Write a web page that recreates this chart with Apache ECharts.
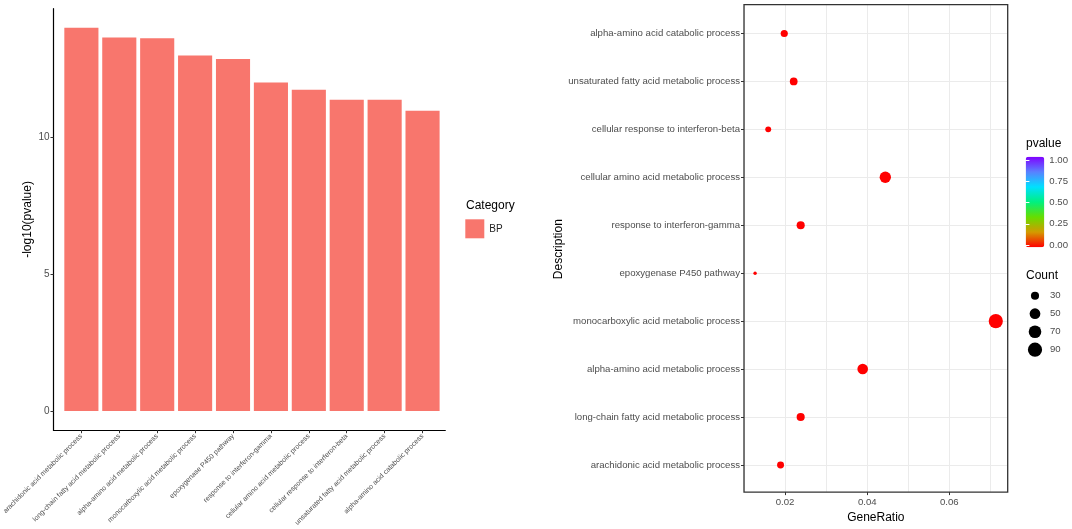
<!DOCTYPE html>
<html>
<head>
<meta charset="utf-8">
<script src="https://cdn.jsdelivr.net/npm/echarts@6/dist/echarts.min.js"></script>
<style>
  html, body { margin: 0; padding: 0; background: #fff; }
  #chart { width: 1072px; height: 529px; }
</style>
</head>
<body>
<div id="chart"></div>
<script>
// Terms, ordered as in the bar chart (bottom to top in the dot plot)
const categories = [
    'arachidonic acid metabolic process',
    'long-chain fatty acid metabolic process',
    'alpha-amino acid metabolic process',
    'monocarboxylic acid metabolic process',
    'epoxygenase P450 pathway',
    'response to interferon-gamma',
    'cellular amino acid metabolic process',
    'cellular response to interferon-beta',
    'unsaturated fatty acid metabolic process',
    'alpha-amino acid catabolic process'
];
const negLog10P = [14.0, 13.65, 13.62, 12.99, 12.86, 12.0, 11.74, 11.37, 11.37, 10.97];
const geneRatio = [0.0189, 0.0238, 0.0389, 0.0713, 0.0127, 0.0238, 0.0444, 0.0159, 0.0221, 0.0198];
const counts = [24, 30, 49, 90, 16, 30, 56, 20, 28, 25];

const barTicks = [0, 5, 10];
const ratioTicks = [0.02, 0.04, 0.06];
const countBreaks = [30, 50, 70, 90];

const FONT = '"Liberation Sans", Arial, sans-serif';
const AXIS_TEXT = '#4d4d4d';
const BAR_COLOR = '#F8766D';

const pvalues = negLog10P.map(v => Math.pow(10, -v));
const countMin = Math.min(...counts);
const countMax = Math.max(...counts);

// ggplot-like area scale: size 1..6, then to pixels
function dotSize(c) {
    const t = Math.max(0, Math.min(1, (c - countMin) / (countMax - countMin)));
    const size = 1 + 5 * Math.sqrt(t);
    return 2.15 * (size + 0.6);
}

const dotData = categories.map((name, i) => [geneRatio[i], name, counts[i], pvalues[i]]);
const countLegendData = countBreaks.map(c => [0.5, String(c), c]);

const hidden = { show: false };

const option = {
    animation: false,
    backgroundColor: '#ffffff',
    textStyle: { fontFamily: FONT },
    grid: [
        // 0: left frame (axis lines)
        { left: 53.5, top: 8.7, width: 391.8, height: 421.5 },
        // 1: left bars
        { left: 57.5, top: 8.7, width: 384, height: 421.5 },
        // 2: right frame (border + vertical grid)
        { left: 744, top: 4.7, width: 263.7, height: 489, show: true, z: 3,
          borderColor: '#333333', borderWidth: 1.3, backgroundColor: 'transparent' },
        // 3: right dots
        { left: 744, top: 9.5, width: 263.7, height: 479.4 },
        // 4: count legend
        { left: 1026, top: 286.7, width: 18, height: 72 },
        // 5: pvalue colourbar labels
        { left: 1025.7, top: 160, width: 18.6, height: 85 }
    ],
    xAxis: [
        { gridIndex: 0, type: 'value', min: 0, max: 1,
          axisLine: { show: true, onZero: false, lineStyle: { color: '#000', width: 1.2 } },
          axisTick: hidden, axisLabel: hidden, splitLine: hidden },
        { gridIndex: 1, type: 'category', data: categories,
          axisLine: { show: false, onZero: false },
          axisTick: { show: true, alignWithLabel: true, length: 3, lineStyle: { color: '#333' } },
          axisLabel: { rotate: 45, fontSize: 7, color: AXIS_TEXT, margin: 5, interval: 0 },
          splitLine: hidden },
        { gridIndex: 2, type: 'value', min: 0.01, max: 0.0742, interval: 0.01,
          axisLine: { show: false, onZero: false }, axisTick: hidden, axisLabel: hidden,
          splitLine: { show: true, lineStyle: { color: '#ebebeb', width: 1 } } },
        { gridIndex: 2, type: 'value', position: 'bottom', min: 0.01, max: 0.0742, interval: 0.01,
          axisLine: { show: false, onZero: false },
          axisTick: { show: true, customValues: ratioTicks, length: 3, lineStyle: { color: '#333' } },
          axisLabel: { customValues: ratioTicks, formatter: v => v.toFixed(2),
                       fontSize: 9.6, color: AXIS_TEXT, margin: 5 },
          splitLine: hidden,
          name: 'GeneRatio', nameLocation: 'middle', nameGap: 17,
          nameTextStyle: { fontSize: 12, color: '#000', verticalAlign: 'top' } },
        { gridIndex: 3, type: 'value', min: 0.01, max: 0.0742, show: false },
        { gridIndex: 4, type: 'value', min: 0, max: 1, show: false },
        { gridIndex: 5, type: 'value', min: 0, max: 1, show: false }
    ],
    yAxis: [
        { gridIndex: 0, type: 'value', min: -0.7, max: 14.7,
          axisLine: { show: true, onZero: false, lineStyle: { color: '#000', width: 1.2 } },
          axisTick: { show: true, customValues: barTicks, length: 3, lineStyle: { color: '#333' } },
          axisLabel: { customValues: barTicks, fontSize: 10, color: AXIS_TEXT, margin: 4 },
          splitLine: hidden,
          name: '-log10(pvalue)', nameLocation: 'middle', nameRotate: 90, nameGap: 20,
          nameTextStyle: { fontSize: 12, color: '#000' } },
        { gridIndex: 1, type: 'value', min: -0.7, max: 14.7, show: false },
        { gridIndex: 2, type: 'value', min: 0, max: 1, show: false },
        { gridIndex: 3, type: 'category', data: categories,
          axisLine: { show: false },
          axisTick: { show: true, alignWithLabel: true, length: 3, lineStyle: { color: '#333' } },
          axisLabel: { fontSize: 9.6, color: AXIS_TEXT, margin: 4, interval: 0 },
          splitLine: { show: true, alignWithLabel: true, interval: 0,
                       lineStyle: { color: '#ebebeb', width: 1 } },
          name: 'Description', nameLocation: 'middle', nameRotate: 90, nameGap: 172,
          nameTextStyle: { fontSize: 12, color: '#000' } },
        { gridIndex: 4, type: 'category', data: countBreaks.map(String), inverse: true,
          position: 'right',
          axisLine: hidden, axisTick: hidden,
          axisLabel: { fontSize: 9.6, color: AXIS_TEXT, margin: 6 } },
        { gridIndex: 5, type: 'value', min: 0, max: 1, interval: 0.25, position: 'right', z: 10,
          axisLine: hidden,
          axisTick: { show: true, inside: true, length: 3.7, lineStyle: { color: '#fff', width: 1 } },
          axisLabel: { formatter: v => v.toFixed(2), fontSize: 9.6, color: AXIS_TEXT, margin: 5 },
          splitLine: hidden },
        { gridIndex: 5, type: 'value', min: 0, max: 1, interval: 0.25, position: 'left', z: 10,
          axisLine: hidden,
          axisTick: { show: true, inside: true, length: 3.7, lineStyle: { color: '#fff', width: 1 } },
          axisLabel: hidden, splitLine: hidden }
    ],
    legend: {
        data: ['BP'],
        left: 465.3, top: 219.3, padding: 0,
        icon: 'rect', itemWidth: 19, itemHeight: 19,
        selectedMode: false,
        textStyle: { fontSize: 10, color: '#222' }
    },
    visualMap: {
        type: 'continuous',
        min: 0, max: 1,
        dimension: 3,
        seriesIndex: [1],
        calculable: false,
        hoverLink: false,
        orient: 'vertical',
        left: 1025.7, top: 156.7, padding: 0,
        itemWidth: 18.6, itemHeight: 90.6,
        inRange: { color: ['#FF0000', '#D49A00', '#66DD00', '#00F080', '#00E0FF', '#5A80FF', '#8000FF'] }
    },
    graphic: [
        { type: 'text', left: 466, top: 199.5,
          style: { text: 'Category', fontSize: 12, fill: '#000', font: '12px ' + FONT } },
        { type: 'text', left: 1026, top: 138,
          style: { text: 'pvalue', fontSize: 12, fill: '#000', font: '12px ' + FONT } },
        { type: 'text', left: 1026, top: 269.5,
          style: { text: 'Count', fontSize: 12, fill: '#000', font: '12px ' + FONT } }
    ],
    series: [
        {
            name: 'BP',
            type: 'bar',
            xAxisIndex: 1, yAxisIndex: 1,
            data: negLog10P,
            barCategoryGap: '10%',
            itemStyle: { color: BAR_COLOR }
        },
        {
            name: 'GO',
            type: 'scatter',
            xAxisIndex: 4, yAxisIndex: 3,
            data: dotData,
            encode: { x: 0, y: 1 },
            symbol: 'circle',
            symbolSize: val => dotSize(val[2]),
            itemStyle: { opacity: 1 }
        },
        {
            name: 'Count',
            type: 'scatter',
            xAxisIndex: 5, yAxisIndex: 4,
            data: countLegendData,
            encode: { x: 0, y: 1 },
            symbol: 'circle',
            symbolSize: val => dotSize(val[2]),
            itemStyle: { color: '#000', opacity: 1 }
        }
    ]
};

const myChart = echarts.init(document.getElementById('chart'));
myChart.setOption(option);

window.addEventListener('resize', function() {
    myChart.resize();
});
</script>
</body>
</html>
